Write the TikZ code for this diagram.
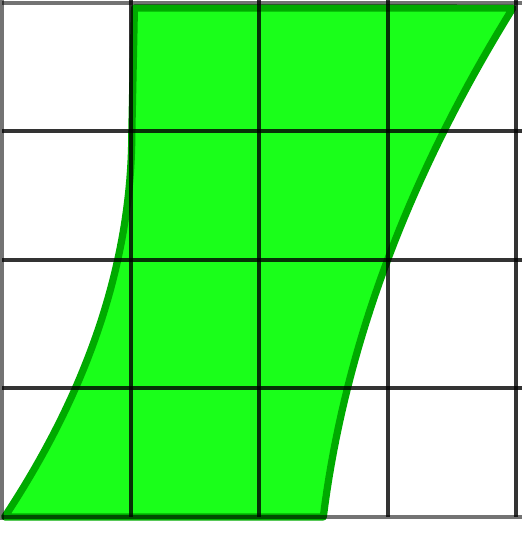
\documentclass[tikz,border=0pt]{standalone}
\definecolor{sheetgreen}{RGB}{26,255,26}
\definecolor{sheetedge}{RGB}{0,170,0}

\begin{document}
\begin{tikzpicture}[x=1cm,y=1cm,
 cell/.style={draw=black,line width=.9pt,opacity=.8},
 rim/.style={draw=black,line width=.9pt,opacity=.55},
 sheet/.style={fill=sheetgreen,draw=sheetedge,line width=1.6pt,line join=round}]
\useasboundingbox (-0.016,-0.125) rectangle (4.04,4.023);
\draw[sheet] (0.02,0) -- (2.5,0)
 -- plot[domain=0:3.96,samples=40] ({2.5+\x/8+\x*\x/16},\x)
 -- (1.03,3.96) -- (1.01,3)
 -- plot[domain=3:0,samples=40] ({0.02+0.99*(1-(1-\x/3)^2)},\x) -- cycle;

\foreach \i in {1,...,4}
 \draw[cell] (\i,0) -- (\i,4.03);
\foreach \j in {1,2,3}
 \draw[cell] (0,\j) -- (4.05,\j);
\draw[rim] (0,-0.02) -- (0,4.03);
\draw[rim] (0,0) -- (4.05,0);
\draw[rim] (0,4) -- (4.05,4);
\end{tikzpicture}
\end{document}
